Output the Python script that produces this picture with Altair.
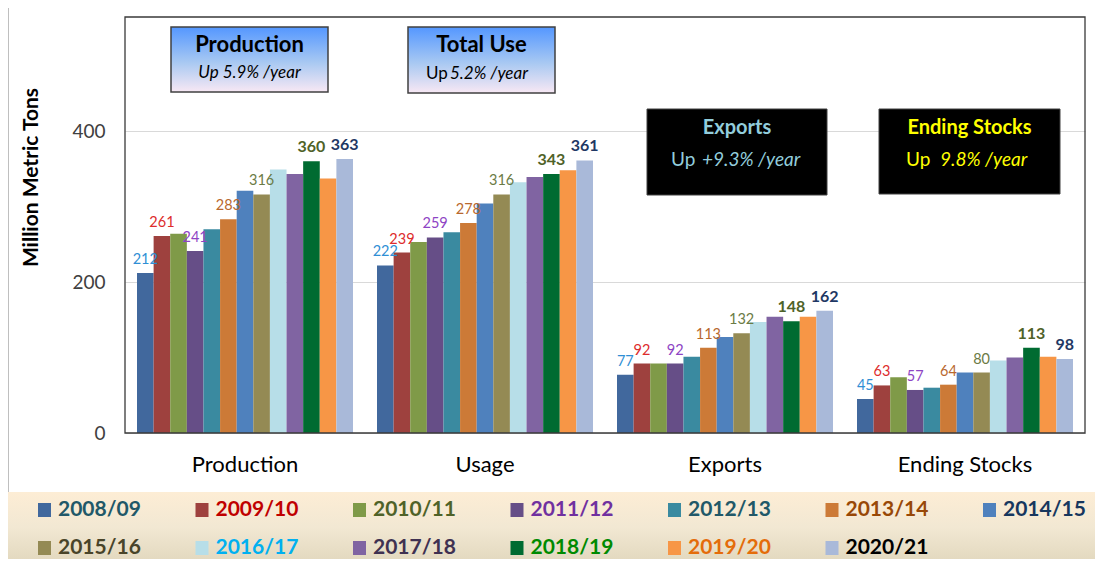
import altair as alt
import pandas as pd

categories = ["Production", "Usage", "Exports", "Ending Stocks"]
years = ["2008/09", "2009/10", "2010/11", "2011/12", "2012/13", "2013/14", "2014/15",
         "2015/16", "2016/17", "2017/18", "2018/19", "2019/20", "2020/21"]
production = [212, 261, 264, 241, 270, 283, 321, 316, 349, 343, 360, 337, 363]
usage = [222, 239, 253, 259, 266, 278, 304, 316, 332, 339, 343, 348, 361]
exports = [77, 92, 92, 92, 101, 113, 127, 132, 147, 154, 148, 154, 162]
ending_stocks = [45, 63, 74, 57, 60, 64, 80, 80, 96, 100, 113, 101, 98]

bar_colors = ["#41689D", "#9E413E", "#7F9A48", "#664E87", "#3A8AA0", "#CC7A37", "#4F81BD",
              "#948A54", "#B7DEE8", "#8064A2", "#006B31", "#F79646", "#A9B9D9"]
legend_text_colors = ["#215868", "#C00000", "#4F6228", "#7030A0", "#215868", "#984807", "#17375E",
                      "#494429", "#00B0F0", "#3F3151", "#008A00", "#E46C0A", "#000000"]
label_colors = {"2008/09": "#2F8FD5", "2009/10": "#DD2C2C", "2011/12": "#8E44C4",
                "2013/14": "#B8682E", "2015/16": "#6B7B45", "2018/19": "#4F6228",
                "2020/21": "#1F3864"}
regular_label_years = ["2008/09", "2009/10", "2011/12", "2013/14", "2015/16"]
bold_label_years = ["2018/19", "2020/21"]
y_ticks = [0, 200, 400]

FONT = "Lato"

series = {"Production": production, "Usage": usage, "Exports": exports, "Ending Stocks": ending_stocks}
rows = []
for cat in categories:
    for yr, v in zip(years, series[cat]):
        rows.append({"category": cat, "year": yr, "value": v, "lcolor": label_colors.get(yr, "#000000")})
df = pd.DataFrame(rows)

x_enc = alt.X("category:N", sort=categories,
              scale=alt.Scale(paddingInner=0.1, paddingOuter=0.05),
              axis=alt.Axis(title=None, labelAngle=0, ticks=False, domain=False,
                            labelFontSize=22, labelPadding=21, labelColor="#000000",
                            labelFont=FONT))
xo_enc = alt.XOffset("year:N", sort=years, scale=alt.Scale(paddingInner=0, paddingOuter=0))
y_enc = alt.Y("value:Q", scale=alt.Scale(domain=[0, 551], nice=False),
              axis=alt.Axis(values=y_ticks, title="Million Metric Tons", ticks=False, domain=False,
                            gridColor="#D9D9D9", labelFontSize=19, labelPadding=20,
                            labelColor="#404040", labelFont=FONT,
                            titleFont=FONT, titleFontSize=21, titleFontWeight="bold",
                            titleColor="#000000", titleAngle=-90, titleX=-94, titleY=160,
                            titleAlign="center", titleBaseline="middle"))

base = alt.Chart(df)
bars = base.mark_bar().encode(
    x=x_enc, xOffset=xo_enc, y=y_enc,
    color=alt.Color("year:N", sort=years, scale=alt.Scale(domain=years, range=bar_colors), legend=None),
)
lab_reg = base.transform_filter(
    alt.FieldOneOfPredicate(field="year", oneOf=regular_label_years)
).mark_text(baseline="bottom", dy=-6, fontSize=14.5, font=FONT).encode(
    x=x_enc, xOffset=xo_enc, y=y_enc, text="value:Q",
    color=alt.Color("lcolor:N", scale=None))
lab_bold = base.transform_filter(
    alt.FieldOneOfPredicate(field="year", oneOf=bold_label_years)
).mark_text(baseline="bottom", dy=-6, fontSize=16, font=FONT, fontWeight="bold").encode(
    x=x_enc, xOffset=xo_enc, y=y_enc, text="value:Q",
    color=alt.Color("lcolor:N", scale=None))

one = pd.DataFrame({"t": [""]})


def rect(x, x2, y, y2, fill, stroke=None, sw=1.0, fill_opacity=1.0):
    kw = dict(fill=fill, fillOpacity=fill_opacity)
    if stroke:
        kw.update(stroke=stroke, strokeWidth=sw)
    return alt.Chart(one).mark_rect(**kw).encode(
        x=alt.value(x), x2=alt.value(x2), y=alt.value(y), y2=alt.value(y2))


def text(s, x, y, size, color, weight="normal", style="normal", align="center"):
    return alt.Chart(pd.DataFrame({"t": [s]})).mark_text(
        font=FONT, fontSize=size, color=color, fontWeight=weight, fontStyle=style,
        align=align, baseline="middle").encode(x=alt.value(x), y=alt.value(y), text="t:N")


blue_grad = alt.Gradient(gradient="linear", x1=0, x2=0, y1=0, y2=1, stops=[
    alt.GradientStop(color="#5497FF", offset=0),
    alt.GradientStop(color="#A9C9F2", offset=0.55),
    alt.GradientStop(color="#F8E8F4", offset=1)])
band_grad = alt.Gradient(gradient="linear", x1=0, x2=0, y1=0, y2=1, stops=[
    alt.GradientStop(color="#FDEDD5", offset=0),
    alt.GradientStop(color="#F2E8D3", offset=0.5),
    alt.GradientStop(color="#E2D8BE", offset=1)])

annot = [
    rect(46, 203, 10, 75, blue_grad, "#404040", 1.5),
    text("Production", 124.5, 28, 22, "#000000", weight="bold"),
    text("Up 5.9% /year", 124.5, 56, 17, "#000000", style="italic"),
    rect(283, 430, 10, 76, blue_grad, "#404040", 1.5),
    text("Total Use", 356.5, 28, 22, "#000000", weight="bold"),
    text("Up", 301, 57, 17, "#000000", align="left"),
    text("5.2% /year", 325, 57, 17, "#000000", style="italic", align="left"),
    rect(522, 702, 92, 178, "#000000", "#404040", 1),
    text("Exports", 612, 111, 20, "#92CDDC", weight="bold"),
    text("Up", 546, 143, 19, "#92CDDC", align="left"),
    text("+9.3% /year", 577, 143, 19, "#92CDDC", style="italic", align="left"),
    rect(754, 935, 92, 177, "#000000", "#404040", 1),
    text("Ending Stocks", 844.5, 111, 20, "#FFFF00", weight="bold"),
    text("Up", 781, 143, 19, "#FFFF00", align="left"),
    text("9.8% /year", 815, 143, 19, "#FFFF00", style="italic", align="left"),
]

frame = rect(0, 960, 0, 416, "#FFFFFF", "#3A3A3A", 1.3, fill_opacity=0)
outer_left = rect(-117, -116, -9, 475, "#BFBFBF")

legend_layers = [rect(-117, 975, 475, 545, band_grad)]
for i, yr in enumerate(years):
    row, col = divmod(i, 7)
    cx = -80.5 + col * 157.5
    cy = 493 + row * 38
    legend_layers.append(rect(cx - 6.5, cx + 6.5, cy - 7, cy + 7, bar_colors[i]))
    legend_layers.append(text(yr, cx + 13.5, cy, 21, legend_text_colors[i], weight="bold", align="left"))

chart = alt.layer(outer_left, *legend_layers, bars, lab_reg, lab_bold, frame, *annot).resolve_scale(
    color="independent"
).properties(
    width=960, height=416,
    autosize=alt.AutoSizeParams(type="none"),
    padding={"left": 117, "top": 9, "right": 10, "bottom": 126},
).configure(background="#FFFFFF").configure_view(stroke=None)

chart.save("out.html", embed_options={"renderer": "svg", "actions": False})
